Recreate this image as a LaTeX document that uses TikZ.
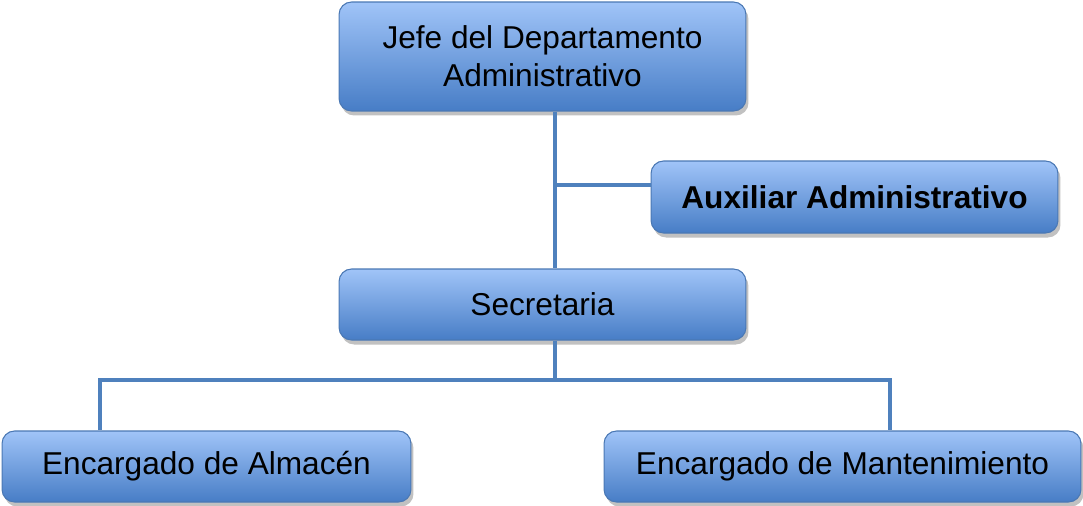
\documentclass[tikz,border=0pt]{standalone}
\usepackage{fontspec}
\setmainfont{Liberation Sans}
\usetikzlibrary{shadows}

\definecolor{boxtop}{HTML}{A0C4F8}
\definecolor{boxbottom}{HTML}{477DC6}
\definecolor{boxline}{HTML}{4A78B4}
\definecolor{linkblue}{HTML}{4F81BD}

\tikzset{
    orgbox/.style={rectangle, rounded corners=0.25cm, draw=boxline, line width=0.6pt,
        top color=boxtop, bottom color=boxbottom, align=center, inner sep=0pt,
        font=\fontsize{18}{21.5}\selectfont,
        drop shadow={shadow xshift=0.5mm, shadow yshift=-0.9mm, opacity=0.35, fill=black!70}},
    link/.style={draw=linkblue, line width=2.6pt}
}

\begin{document}
\begin{tikzpicture}[x=0.02cm, y=-0.02cm]
    \useasboundingbox (0, 0) rectangle (1083, 505);

            \node[orgbox, minimum width=8.14cm, minimum height=2.18cm] (jefe) at (542.5, 56.5)
                {Jefe del Departamento\\Administrativo};
            \node[orgbox, minimum width=8.14cm, minimum height=1.44cm, font=\fontsize{18}{21.5}\selectfont\bfseries] (aux) at (854.5, 197)
                {Auxiliar Administrativo};
            \node[orgbox, minimum width=8.14cm, minimum height=1.42cm] (sec) at (542.5, 304.5)
                {Secretaria};
            \node[orgbox, minimum width=8.18cm, minimum height=1.42cm] (alm) at (206.5, 466.5)
                {Encargado de Almacén};
            \node[orgbox, minimum width=9.54cm, minimum height=1.42cm] (man) at (842.5, 466.5)
                {Encargado de Mantenimiento};

            %%draw the links
            \coordinate (trunk) at (555, 0);
            \coordinate (auxjoin) at (555, 185);
            \coordinate (bar) at (555, 380);
            \coordinate (leftdrop) at (100, 380);
            \coordinate (rightdrop) at (890, 380);

            \draw[link] (jefe.south -| trunk) to (sec.north -| trunk);
            \draw[link] (auxjoin) to (auxjoin -| aux.west);
            \draw[link] (sec.south -| trunk) to (bar);
            \draw[link] (alm.north -| leftdrop) to (leftdrop) to (rightdrop) to (man.north -| rightdrop);
\end{tikzpicture}
\end{document}
